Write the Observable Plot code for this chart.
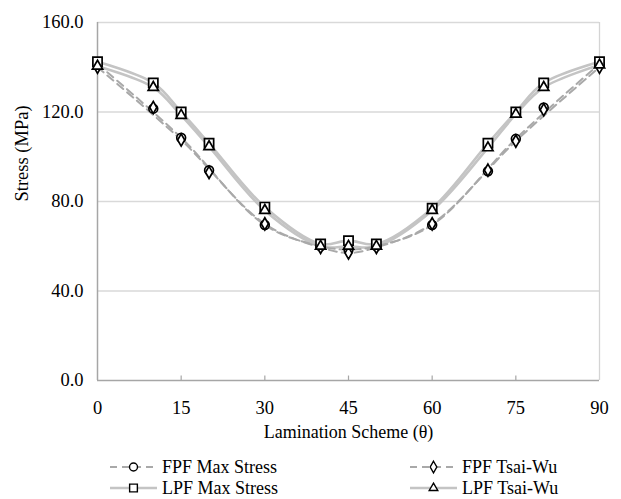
<!DOCTYPE html>
<html>
<head>
<meta charset="utf-8">
<script src="https://cdn.jsdelivr.net/npm/d3@7"></script>
<script src="https://cdn.jsdelivr.net/npm/@observablehq/plot@0.6"></script>
<style>
  body { margin: 0; background: #fff; font-family: "Liberation Serif", serif; }
  #chart svg { display: block; }
</style>
</head>
<body>
<div id="chart"></div>
<script>
const theta = [0, 10, 15, 20, 30, 40, 45, 50, 60, 70, 75, 80, 90];
const fpfMaxStress = [141.5, 121.5, 108.5, 94, 69.5, 60, 58.5, 60, 69.5, 93.5, 108, 122, 141.5];
const fpfTsaiWu    = [140, 122, 107.5, 93, 70, 59.5, 57, 59.5, 70, 94, 107, 121, 140];
const lpfMaxStress = [142.5, 133, 120, 106, 77.5, 61, 62.5, 61, 77, 106, 120, 133, 142.5];
const lpfTsaiWu    = [140.5, 131, 118.5, 104.5, 76, 60, 60, 60, 76, 104, 119, 131, 141];
// the dashed FPF curves are drawn through these angles only
const fpfLineTheta = [0, 15, 30, 40, 45, 50, 60, 75, 90];
const xTicks = [0, 15, 30, 45, 60, 75, 90];
const yTicks = [0, 40, 80, 120, 160];
const seriesNames = ["FPF Max Stress", "FPF Tsai-Wu", "LPF Max Stress", "LPF Tsai-Wu"];

const rows = (vals, name) => theta.map((t, i) => ({theta: t, stress: vals[i], series: name}));
const fpfMax = rows(fpfMaxStress, seriesNames[0]);
const fpfTsai = rows(fpfTsaiWu, seriesNames[1]);
const lpfMax = rows(lpfMaxStress, seriesNames[2]);
const lpfTsai = rows(lpfTsaiWu, seriesNames[3]);
const onFpfLine = d => fpfLineTheta.includes(d.theta);

const dashColor = "#a9a9a9";
const solidColor = "#c4c4c4";
const markStyle = {x: "theta", y: "stress", r: 4.6, stroke: "#000", strokeWidth: 1.7, fill: "#fff"};

const chart = Plot.plot({
  width: 621,
  height: 450,
  marginTop: 22,
  marginBottom: 70,
  marginLeft: 97,
  marginRight: 22,
  style: {fontFamily: "Liberation Serif, serif", fontSize: "18px", color: "#000", background: "#fff"},
  x: {domain: [0, 90]},
  y: {domain: [0, 160]},
  marks: [
    Plot.ruleY(yTicks.filter(d => d > 0), {stroke: "#d9d9d9", strokeWidth: 1.3}),
    Plot.ruleX([90], {stroke: "#d4d4d4", strokeWidth: 1.3}),
    Plot.ruleX([0], {stroke: "#a6a6a6", strokeWidth: 1.5}),
    Plot.ruleY([0], {stroke: "#a6a6a6", strokeWidth: 1.5}),
    Plot.ruleX(xTicks.filter(d => d > 0 && d < 90), {y1: 0, y2: 2, stroke: "#a6a6a6", strokeWidth: 1.2}),
    Plot.axisX(xTicks, {tickSize: 0, tickPadding: 20, label: null, fontSize: 18.5}),
    Plot.axisY(yTicks, {tickSize: 0, tickPadding: 14, label: null, tickFormat: d => d.toFixed(1), fontSize: 18.5}),
    Plot.text(["Lamination Scheme (θ)"], {frameAnchor: "bottom", dy: 57, fontSize: 18}),
    Plot.text(["Stress (MPa)"], {frameAnchor: "left", dx: -75, rotate: -90, fontSize: 18.5}),
    Plot.line(lpfMax, {x: "theta", y: "stress", stroke: solidColor, strokeWidth: 2.6, curve: "catmull-rom"}),
    Plot.line(lpfTsai, {x: "theta", y: "stress", stroke: solidColor, strokeWidth: 2.6, curve: "catmull-rom"}),
    Plot.line(fpfMax.filter(onFpfLine), {x: "theta", y: "stress", stroke: dashColor, strokeWidth: 2, strokeDasharray: "8,5", curve: "catmull-rom"}),
    Plot.line(fpfTsai.filter(onFpfLine), {x: "theta", y: "stress", stroke: dashColor, strokeWidth: 2, strokeDasharray: "8,5", curve: "catmull-rom"}),
    Plot.dot(fpfMax, {...markStyle, symbol: "circle", r: 4.4}),
    Plot.dot(fpfTsai, {...markStyle, symbol: "diamond", r: 3.7}),
    Plot.dot(lpfMax, {...markStyle, symbol: "square", r: 5.2}),
    Plot.dot(lpfTsai, {...markStyle, symbol: "triangle", r: 3.8}),
  ]
});
document.getElementById("chart").appendChild(chart);

// Legend below the plot
const legend = d3.create("svg").attr("width", 621).attr("height", 49)
  .style("display", "block").style("font-family", "Liberation Serif, serif");
const items = [
  {name: seriesNames[0], sym: d3.symbolCircle, dash: true, x: 110, y: 17},
  {name: seriesNames[1], sym: d3.symbolDiamond, dash: true, x: 410, y: 17},
  {name: seriesNames[2], sym: d3.symbolSquare, dash: false, x: 110, y: 38},
  {name: seriesNames[3], sym: d3.symbolTriangle, dash: false, x: 410, y: 38},
];
const sizes = new Map([[d3.symbolCircle, 50], [d3.symbolDiamond, 38], [d3.symbolSquare, 60], [d3.symbolTriangle, 32]]);
for (const it of items) {
  const g = legend.append("g").attr("transform", `translate(${it.x},${it.y})`);
  g.append("line").attr("x1", 0).attr("x2", 47).attr("y1", 0).attr("y2", 0)
    .attr("stroke", it.dash ? dashColor : solidColor)
    .attr("stroke-width", it.dash ? 2 : 2.6)
    .attr("stroke-dasharray", it.dash ? "7,5" : null);
  g.append("path").attr("transform", "translate(23.5,0)")
    .attr("d", d3.symbol(it.sym, sizes.get(it.sym))())
    .attr("fill", "#fff").attr("stroke", "#000").attr("stroke-width", 1.4);
  g.append("text").attr("x", 52).attr("y", 0).attr("dy", "0.35em")
    .attr("font-size", 18).attr("fill", "#000").text(it.name);
}
document.getElementById("chart").appendChild(legend.node());
</script>
</body>
</html>
